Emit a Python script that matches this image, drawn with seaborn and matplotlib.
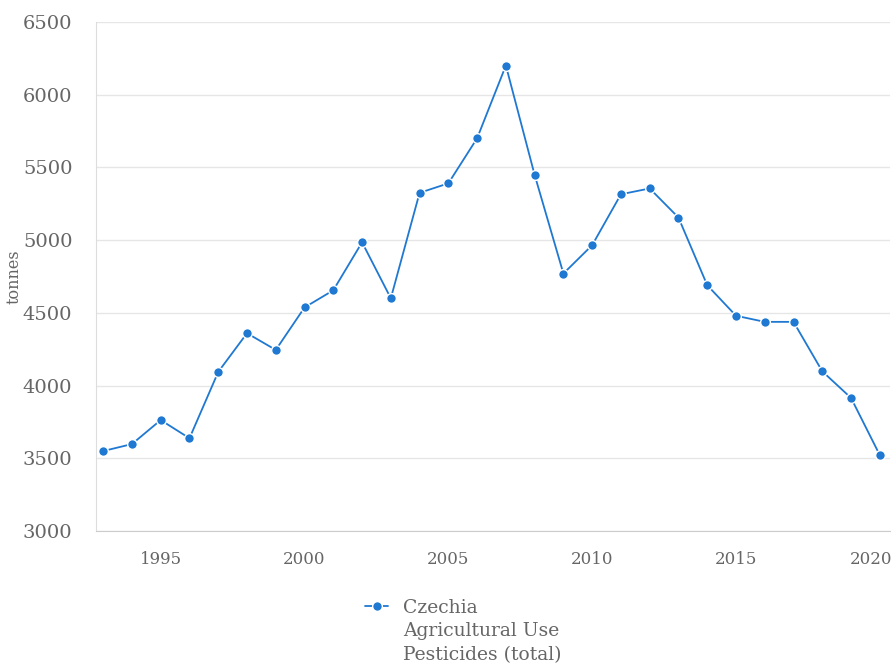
import pandas as pd
import seaborn as sns
import matplotlib.pyplot as plt
from matplotlib.transforms import ScaledTranslation

years = list(range(1993, 2021))
tonnes = [3550, 3598, 3763, 3638, 4094, 4360, 4245, 4537, 4655, 4985,
          4600, 5325, 5390, 5700, 6200, 5448, 4770, 4965, 5315, 5355,
          5155, 4690, 4480, 4438, 4438, 4098, 3915, 3522]
series_lines = ["Czechia", "Agricultural Use", "Pesticides (total)"]

df = pd.DataFrame({"year": years, "tonnes": tonnes, "series": series_lines[0]})

sns.set_style("white")
plt.rcParams["font.family"] = ["DejaVu Serif"]

text_color = "#666666"
line_color = "#1f78d1"

fig = plt.figure(figsize=(8.93, 6.63), dpi=100)
ax = fig.add_axes([0.1075, 0.199, 0.889, 0.768])

sns.lineplot(data=df, x="year", y="tonnes", hue="series", palette=[line_color],
             marker="o", markersize=7, markeredgecolor="white", markeredgewidth=1,
             linewidth=1.3, ax=ax)

ax.set_xlim(1992.75, 2020.35)
ax.set_ylim(3000, 6500)
ax.set_yticks(range(3000, 6501, 500))
ax.set_xticks(range(1995, 2021, 5))
ax.yaxis.grid(True, color="#e6e6e6", linewidth=1)
ax.xaxis.grid(False)

for side in ["top", "right"]:
    ax.spines[side].set_visible(False)
ax.spines["left"].set_color("#dddddd")
ax.spines["bottom"].set_color("#cccccc")

ax.tick_params(axis="x", length=8, color="#cccccc", labelsize=12, labelcolor=text_color, pad=6)
ax.tick_params(axis="y", length=0, labelsize=14, labelcolor=text_color, pad=17)

ax.set_xlabel("")
ax.set_ylabel("tonnes", color=text_color, fontsize=11.5)
ax.yaxis.set_label_coords(-0.092, 0.5)

# legend: handle next to the first line, the rest of the name below it
leg = ax.legend(loc="center left", bbox_to_anchor=(0.4087, 0.083),
                bbox_transform=fig.transFigure, frameon=False,
                fontsize=13.5, handlelength=1.25, handletextpad=0.8,
                borderaxespad=0, borderpad=0)
for t in leg.get_texts():
    t.set_color(text_color)

fig.canvas.draw()

# keep the last year label inside the figure
last = ax.get_xticklabels()[-1]
last.set_transform(last.get_transform() + ScaledTranslation(-0.09, 0, fig.dpi_scale_trans))

bb = leg.get_texts()[0].get_window_extent().transformed(fig.transFigure.inverted())
step = 23.5 / fig.bbox.height
for i, line in enumerate(series_lines[1:], start=1):
    fig.text(bb.x0, bb.y0 - i * step, line, color=text_color, fontsize=13.5,
             ha="left", va="bottom")

fig.savefig("out.png", dpi=100)
